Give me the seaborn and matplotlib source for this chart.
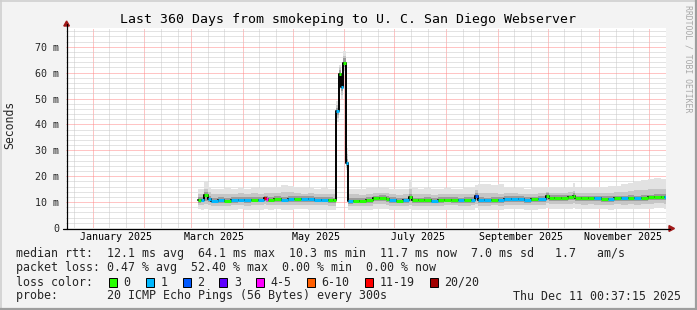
import datetime as dt
import numpy as np
import pandas as pd
import matplotlib
matplotlib.use("Agg")
import matplotlib.pyplot as plt
import matplotlib.dates as mdates
import matplotlib.transforms as mtransforms
from matplotlib.patches import Rectangle, Polygon
from matplotlib.lines import Line2D
import seaborn as sns

# ---------------- data ----------------
start = dt.datetime(2024, 12, 16, 0, 37, 15)
n_days = 360

# day offset from start of graph
day = [79, 81, 83, 85, 87, 91, 95, 99, 103, 107, 111, 115, 119, 120, 121, 125, 129, 133, 137, 141,
       145, 149, 153, 157, 160, 162.0, 163.8, 165.0, 166.2, 168.0, 169.2, 172, 176, 180, 184, 188,
       192, 194, 198, 202, 206, 207.5, 211, 215, 219, 223, 227, 231, 235, 239, 243, 245.5, 247,
       251, 255, 259, 263, 267, 271, 275, 279, 283, 288, 289.5, 293, 297, 301, 304, 305.5, 309,
       313, 317, 321, 325, 329, 333, 337, 341, 345, 349, 353, 357, 359]
# median rtt (ms)
median = [10.8, 11.0, 12.6, 11.2, 10.5, 10.8, 10.6, 10.9, 11.0, 10.8, 11.0, 11.0, 11.5, 11.3, 11.0,
          11.2, 11.0, 11.1, 11.3, 11.2, 11.1, 11.0, 11.0, 10.8, 10.7, 45.0, 59.5, 54.5, 63.8, 25.0,
          10.4, 10.6, 10.5, 10.8, 11.5, 11.6, 11.2, 10.8, 10.6, 10.7, 11.8, 10.7, 10.7, 10.8, 10.6,
          10.8, 11.0, 10.9, 10.7, 10.8, 10.9, 12.2, 10.8, 10.7, 10.9, 10.8, 11.2, 11.3, 11.2, 10.9,
          11.1, 11.3, 12.4, 11.6, 11.7, 11.6, 11.8, 12.3, 11.5, 11.4, 11.5, 11.4, 11.3, 11.2, 11.5,
          11.4, 11.5, 11.4, 11.7, 11.8, 12.1, 12.1, 12.0]
# loss class index (0:"0", 1:"1", 2:"2", 3:"3", 4:"4-5", 5:"6-10", 6:"11-19", 7:"20/20")
loss = [0, 1, 0, 1, 1, 1, 0, 1, 1, 1, 0, 1, 6, 4, 0, 0, 1, 1, 0, 1, 1, 1, 1, 0, 0, 1, 0, 1, 0, 1,
        1, 0, 0, 0, 0, 0, 0, 1, 0, 1, 0, 0, 0, 0, 1, 0, 0, 0, 1, 0, 1, 2, 1, 1, 0, 1, 1, 1, 1, 1,
        0, 1, 0, 0, 0, 0, 0, 0, 0, 0, 0, 1, 0, 1, 0, 1, 0, 1, 0, 0, 0, 0, 1]
# smoke: outer band
lo1 = [7.2, 7.0, 7.5, 7.0, 6.8, 7.0, 6.8, 7.0, 7.2, 7.0, 7.1, 7.0, 7.4, 7.2, 7.0, 7.2, 7.0, 7.1,
       7.3, 7.2, 7.1, 7.0, 7.0, 6.8, 6.8, 41.0, 55.0, 50.0, 59.0, 22.5, 6.8, 7.0, 6.8, 7.0, 7.4,
       7.5, 7.2, 7.0, 6.9, 7.0, 7.4, 7.0, 7.0, 7.0, 6.9, 7.0, 7.1, 7.0, 6.9, 7.0, 7.0, 7.6, 7.0,
       6.9, 7.0, 7.0, 7.2, 7.3, 7.2, 7.0, 7.1, 7.2, 7.6, 7.4, 7.4, 7.4, 7.5, 7.6, 7.3, 7.3, 7.3,
       7.2, 7.2, 7.1, 7.3, 7.2, 7.3, 7.2, 7.4, 7.5, 7.6, 7.6, 7.5]
hi1 = [15.0, 15.2, 18.0, 16.0, 15.2, 15.0, 15.4, 15.0, 15.6, 15.2, 15.8, 15.4, 15.8, 15.6, 15.6,
       15.8, 16.6, 16.4, 16.0, 15.4, 15.6, 15.2, 15.4, 15.0, 15.2, 49.0, 63.0, 59.0, 68.5, 31.0,
       15.2, 15.0, 15.2, 15.4, 15.6, 15.8, 15.4, 15.2, 15.0, 15.2, 18.5, 15.4, 15.2, 15.4, 15.0,
       15.2, 15.4, 15.2, 15.2, 15.4, 15.6, 16.6, 16.8, 17.0, 16.6, 16.8, 15.6, 15.4, 15.4, 15.2,
       15.4, 15.4, 16.0, 15.4, 15.6, 15.4, 15.8, 17.2, 15.8, 15.6, 15.6, 15.8, 16.0, 16.2, 16.4,
       16.8, 17.4, 18.2, 18.6, 19.0, 19.2, 18.8, 18.8]
# smoke: middle band
lo2 = [8.8, 8.8, 9.2, 8.8, 8.5, 8.6, 8.5, 8.7, 8.8, 8.6, 8.8, 8.8, 9.2, 9.0, 8.8, 9.0, 8.8, 8.9,
       9.0, 9.0, 8.9, 8.8, 8.8, 8.6, 8.5, 42.5, 56.5, 51.5, 60.5, 23.3, 8.4, 8.5, 8.4, 8.6, 9.2,
       9.3, 9.0, 8.6, 8.5, 8.5, 9.0, 8.6, 8.6, 8.6, 8.5, 8.6, 8.8, 8.7, 8.5, 8.6, 8.7, 9.4, 8.6,
       8.5, 8.7, 8.6, 9.0, 9.0, 9.0, 8.7, 8.8, 9.0, 9.6, 9.2, 9.3, 9.2, 9.3, 9.5, 9.1, 9.0, 9.1,
       9.0, 9.0, 8.9, 9.1, 9.0, 9.1, 9.0, 9.2, 9.3, 9.5, 9.5, 9.4]
hi2 = [13.0, 13.2, 15.0, 13.8, 13.0, 13.0, 13.2, 13.0, 13.4, 13.0, 13.4, 13.2, 13.6, 13.4, 13.4,
       13.6, 13.8, 13.8, 13.6, 13.3, 13.4, 13.2, 13.2, 13.0, 13.0, 47.5, 62.0, 57.5, 66.5, 28.5,
       13.0, 13.0, 12.8, 13.0, 13.6, 13.7, 13.4, 13.0, 12.9, 13.0, 15.0, 13.0, 13.0, 13.1, 12.9,
       13.0, 13.2, 13.1, 13.0, 13.1, 13.2, 14.6, 13.4, 13.4, 13.4, 13.3, 13.4, 13.4, 13.3, 13.0,
       13.2, 13.4, 14.0, 13.6, 13.6, 13.5, 13.8, 14.4, 13.6, 13.5, 13.6, 13.6, 13.6, 13.7, 13.9,
       14.0, 14.2, 14.6, 14.8, 15.0, 15.2, 15.0, 15.0]
# smoke: inner band
lo3 = [9.8, 9.9, 10.6, 9.9, 9.5, 9.7, 9.6, 9.8, 9.9, 9.7, 9.9, 9.9, 10.3, 10.1, 9.9, 10.0, 9.9,
       10.0, 10.2, 10.1, 10.0, 9.9, 9.9, 9.7, 9.6, 43.8, 58.0, 53.0, 62.0, 24.0, 9.4, 9.6, 9.5,
       9.7, 10.4, 10.5, 10.1, 9.7, 9.6, 9.6, 10.4, 9.6, 9.6, 9.7, 9.6, 9.7, 9.9, 9.8, 9.6, 9.7,
       9.8, 10.8, 9.7, 9.6, 9.8, 9.7, 10.1, 10.2, 10.1, 9.8, 10.0, 10.2, 11.0, 10.5, 10.6, 10.5,
       10.7, 11.0, 10.4, 10.3, 10.4, 10.3, 10.2, 10.1, 10.4, 10.3, 10.4, 10.3, 10.6, 10.7, 11.0,
       11.0, 10.9]
hi3 = [11.8, 12.0, 13.8, 12.3, 11.6, 11.8, 11.7, 11.9, 12.0, 11.8, 12.1, 12.0, 12.5, 12.3, 12.0,
       12.2, 12.1, 12.2, 12.4, 12.3, 12.2, 12.0, 12.0, 11.8, 11.7, 46.2, 61.0, 56.0, 65.5, 26.5,
       11.4, 11.6, 11.5, 11.8, 12.5, 12.6, 12.2, 11.8, 11.6, 11.7, 13.2, 11.7, 11.7, 11.8, 11.6,
       11.8, 12.0, 11.9, 11.7, 11.8, 11.9, 13.4, 11.8, 11.7, 11.9, 11.8, 12.2, 12.3, 12.2, 11.9,
       12.1, 12.3, 13.4, 12.6, 12.7, 12.6, 12.8, 13.4, 12.5, 12.4, 12.5, 12.4, 12.3, 12.2, 12.5,
       12.4, 12.6, 12.5, 12.8, 12.9, 13.2, 13.2, 13.1]

loss_labels = ["0", "1", "2", "3", "4-5", "6-10", "11-19", "20/20"]
loss_colors = ["#26ff00", "#00b8ff", "#0059ff", "#5e00ff", "#ff00ff", "#ff5e00", "#ff0000", "#a10000"]

y_ticks = [0, 10, 20, 30, 40, 50, 60, 70]
y_labels = ["0", "10 m", "20 m", "30 m", "40 m", "50 m", "60 m", "70 m"]
month_labels = ["January 2025", "March 2025", "May 2025", "July 2025", "September 2025", "November 2025"]
month_label_dates = [dt.datetime(2025, m, 1) for m in (1, 3, 5, 7, 9, 11)]

title = "Last 360 Days from smokeping to U. C. San Diego Webserver"
ylabel = "Seconds"
legend_line1 = "median rtt:  12.1 ms avg  64.1 ms max  10.3 ms min  11.7 ms now  7.0 ms sd   1.7   am/s"
legend_line2 = "packet loss: 0.47 % avg  52.40 % max  0.00 % min  0.00 % now"
legend_line3 = "loss color:"
legend_line4 = "probe:       20 ICMP Echo Pings (56 Bytes) every 300s"
stamp = "Thu Dec 11 00:37:15 2025"
watermark = "RRDTOOL / TOBI OETIKER"

# ---------------- figure ----------------
sns.set_theme(style="white")
plt.rcParams["font.family"] = ["DejaVu Sans Mono", "DejaVu Sans"]

W, H = 697, 310
def fx(px):
    return px / W
def fy(py):
    return 1 - py / H

fig = plt.figure(figsize=(W / 100, H / 100), dpi=100, facecolor="#f3f3f3")
ax = fig.add_axes([fx(66), fy(228), 600 / W, 200 / H])
ax.set_facecolor("white")

t0 = mdates.date2num(start)
t_end = t0 + n_days
t = t0 + np.asarray(day, dtype=float)
t_edges = np.append(t, t_end)

def ext(a):
    a = np.asarray(a, dtype=float)
    return np.append(a, a[-1])

df = pd.DataFrame({"t": t_edges, "median": ext(median)})

# smoke layers
ax.fill_between(t_edges, ext(lo1), ext(hi1), step="post", color="#e2e2e2", lw=0, zorder=2)
ax.fill_between(t_edges, ext(lo2), ext(hi2), step="post", color="#c6c6c6", lw=0, zorder=3)
ax.fill_between(t_edges, ext(lo3), ext(hi3), step="post", color="#9c9c9c", lw=0, zorder=4)

# black median trace
sns.lineplot(data=df, x="t", y="median", drawstyle="steps-post", color="black", lw=1.4,
             estimator=None, sort=False, ax=ax, zorder=5)
# loss-coloured median
cols = [loss_colors[i] for i in loss]
ax.hlines(median, t_edges[:-1], t_edges[1:], colors=cols, lw=2.2, zorder=6)

ax.set_xlim(t0, t_end)
ax.set_ylim(0, 200 / 2.59)
ax.set_xlabel("")
ax.set_ylabel("")

# grid
month_starts = [mdates.date2num(dt.datetime(2025, m, 1)) for m in range(1, 13)]
minor_x = []
for (yy, mm) in [(2024, 12)] + [(2025, m) for m in range(1, 13)]:
    for d in (11, 21):
        v = mdates.date2num(dt.datetime(yy, mm, d))
        if t0 < v < t_end:
            minor_x.append(v)
ax.set_xticks(month_starts)
ax.set_xticks(minor_x, minor=True)
ax.set_xticklabels([])
ax.set_yticks(y_ticks)
ax.set_yticklabels(y_labels)
ax.set_yticks(np.arange(0, 77, 2), minor=True)
ax.set_axisbelow(True)
ax.grid(True, which="minor", color="#c8c8c8", linestyle=(0, (1, 1)), lw=0.72)
ax.grid(True, which="major", color="#ff8a8a", linestyle=(0, (1, 1)), lw=0.72)
ax.tick_params(axis="both", which="both", direction="out", length=2, width=0.7, color="black",
               labelsize=7.2, pad=3)
ax.tick_params(axis="x", which="both", labelbottom=False)
for s in ax.spines.values():
    s.set_visible(False)

# month labels
trans = mtransforms.blended_transform_factory(ax.transData, fig.transFigure)
for lab, d in zip(month_labels, month_label_dates):
    ax.text(mdates.date2num(d) + 14, fy(237), lab, transform=trans, ha="center", va="center",
            fontsize=7.2, color="black")

# axis lines with arrows
fig.add_artist(Line2D([fx(66.5), fx(66.5)], [fy(228.5), fy(24)], color="black", lw=0.9))
fig.add_artist(Line2D([fx(63), fx(670)], [fy(228.5), fy(228.5)], color="black", lw=0.9))
fig.add_artist(Polygon([[fx(63.8), fy(26)], [fx(69.4), fy(26)], [fx(66.6), fy(21)]],
                       closed=True, color="#a01818", transform=fig.transFigure))
fig.add_artist(Polygon([[fx(669), fy(225.6)], [fx(669), fy(231.4)], [fx(674.5), fy(228.5)]],
                       closed=True, color="#a01818", transform=fig.transFigure))

# frame shading
fig.add_artist(Line2D([0, 1], [fy(0.5), fy(0.5)], color="#cfcfcf", lw=1.2))
fig.add_artist(Line2D([fx(0.5), fx(0.5)], [0, 1], color="#cfcfcf", lw=1.2))
fig.add_artist(Line2D([0, 1], [fy(309), fy(309)], color="#9e9e9e", lw=1.6))
fig.add_artist(Line2D([fx(696), fx(696)], [0, 1], color="#9e9e9e", lw=1.6))

# texts
fig.text(fx(348), fy(19), title, ha="center", va="center", fontsize=9.5, color="black")
fig.text(fx(10), fy(125), ylabel, ha="center", va="center", rotation=90, fontsize=8.3)
fig.text(fx(688), fy(59), watermark, ha="center", va="center", rotation=270, fontsize=5.9,
         color="#a8a8a8")

lf = 8.37
cw = 7.0
fig.text(fx(16), fy(254), legend_line1, ha="left", va="center", fontsize=lf)
fig.text(fx(16), fy(268), legend_line2, ha="left", va="center", fontsize=lf)
fig.text(fx(16), fy(282), legend_line3, ha="left", va="center", fontsize=lf)
fig.text(fx(16), fy(296), legend_line4, ha="left", va="center", fontsize=lf)
fig.text(fx(681), fy(296), stamp, ha="right", va="center", fontsize=lf)

bx = 108.9
for lab, col in zip(loss_labels, loss_colors):
    fig.add_artist(Rectangle((fx(bx), fy(286.5)), 8 / W, 9 / H, facecolor=col,
                             edgecolor="black", lw=0.7, transform=fig.transFigure))
    lx = bx + 14.5
    fig.text(fx(lx), fy(282), lab, ha="left", va="center", fontsize=lf)
    bx = lx + (len(lab) + 2) * cw + 1.3

fig.savefig("out.png", dpi=100, facecolor=fig.get_facecolor())
